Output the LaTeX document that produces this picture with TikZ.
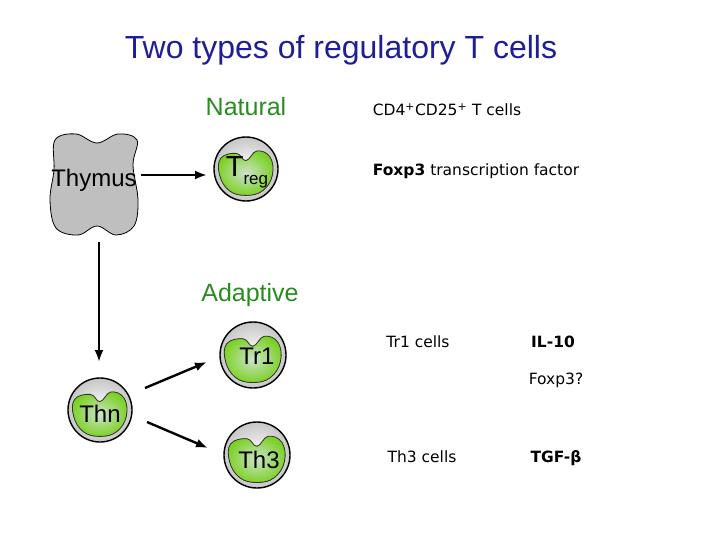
\documentclass[tikz,border=0pt]{standalone}
\usepackage{fontspec}
\usetikzlibrary{calc,arrows.meta}
\setmainfont{Liberation Sans}
\newfontfamily\vfont{DejaVu Sans}
\begin{document}
\begin{tikzpicture}[x=1pt,y=-1pt,
  arr/.style={-{Latex[length=12pt,width=9pt]},line width=2.4pt},
  cellbody/.style={circle,draw=black,line width=1.4pt,minimum size=#1,inner sep=0pt,inner color=white,outer color=black!22},
  grn/.style={draw=black!80,line width=0.8pt,inner color=green!45!black!20!white,outer color=green!65!black!60!yellow!85!white},
  lbl/.style={font=\fontsize{24}{24}\selectfont},
  side/.style={font=\vfont\fontsize{15.5}{17}\selectfont,anchor=base}]
\useasboundingbox (0,0) rectangle (720,540);
\definecolor{titleblue}{RGB}{30,30,150}
\definecolor{natgreen}{RGB}{40,140,30}
\newcommand{\blob}[2]{\fill[grn] plot[smooth cycle,tension=0.7] coordinates {
 ($(#1)+(-21*#2,-9*#2)$) ($(#1)+(-8*#2,-13*#2)$) ($(#1)+(0,-7*#2)$) ($(#1)+(9*#2,-15*#2)$) ($(#1)+(20*#2,-10*#2)$)
 ($(#1)+(22*#2,5*#2)$) ($(#1)+(14*#2,18*#2)$) ($(#1)+(0,22*#2)$) ($(#1)+(-14*#2,18*#2)$) ($(#1)+(-22*#2,5*#2)$)};}
\node[font=\fontsize{32}{32}\selectfont,text=titleblue] (title) at (341,50) {Two types of regulatory T cells};
% thymus
\fill[black!25,draw=black,line width=0.8pt] plot[smooth cycle,tension=0.6] coordinates {
 (55,140) (76,134) (97,143) (118,134) (137,140) (133,165) (138,200) (134,226) (116,235) (97,226) (78,235) (56,228) (50,200) (54,170)};
\node[lbl] (thymus) at (94,180) {Thymus};
% cells
\node[cellbody=64pt] (treg) at (246,169) {};
\blob{treg}{1.2}
\node[font=\fontsize{29}{29}\selectfont] (tregl) at (247,172) {T\raisebox{-0.5ex}{\fontsize{17}{17}\selectfont reg}};
\node[cellbody=66pt] (tr1) at (253,355) {};
\blob{tr1}{1.25}
\node[lbl] (tr1l) at (257,356) {Tr1};
\node[cellbody=66pt] (th3) at (257,455) {};
\blob{th3}{1.25}
\node[lbl] (th3l) at (259,460) {Th3};
\node[cellbody=64pt] (thn) at (100,410) {};
\blob{thn}{1.2}
\node[lbl] (thnl) at (100,414) {Thn};
% arrows
\coordinate (v1) at (99,242);
\coordinate (h1) at (141,175);
\coordinate (h2) at (207,175);
\coordinate (d1) at (145,388);
\coordinate (d1e) at (207,362);
\coordinate (d2) at (147,422);
\coordinate (d2e) at (208,448);
\draw[arr] (h1) -- (h2);
\draw[arr] (v1) -- (99,362);
\draw[arr] (d1) -- (d1e);
\draw[arr] (d2) -- (d2e);
% headings
\node[font=\fontsize{25}{25}\selectfont,text=natgreen] (nat) at (246,107) {Natural};
\node[font=\fontsize{25}{25}\selectfont,text=natgreen] (adp) at (250,295) {Adaptive};
% side texts
\node[side] (cd4) at (447,116) {CD4\textsuperscript{+}CD25\textsuperscript{+} T cells};
\node[side] (foxp3) at (476,176) {\textbf{Foxp3} transcription factor};
\node[side] (tr1c) at (418,347) {Tr1 cells};
\node[side] (il10) at (553,347) {\textbf{IL-10}};
\node[side] (foxq) at (556,384) {Foxp3?};
\node[side] (th3c) at (422,462) {Th3 cells};
\node[side] (tgf) at (556,462) {\textbf{TGF-β}};
\end{tikzpicture}
\end{document}
